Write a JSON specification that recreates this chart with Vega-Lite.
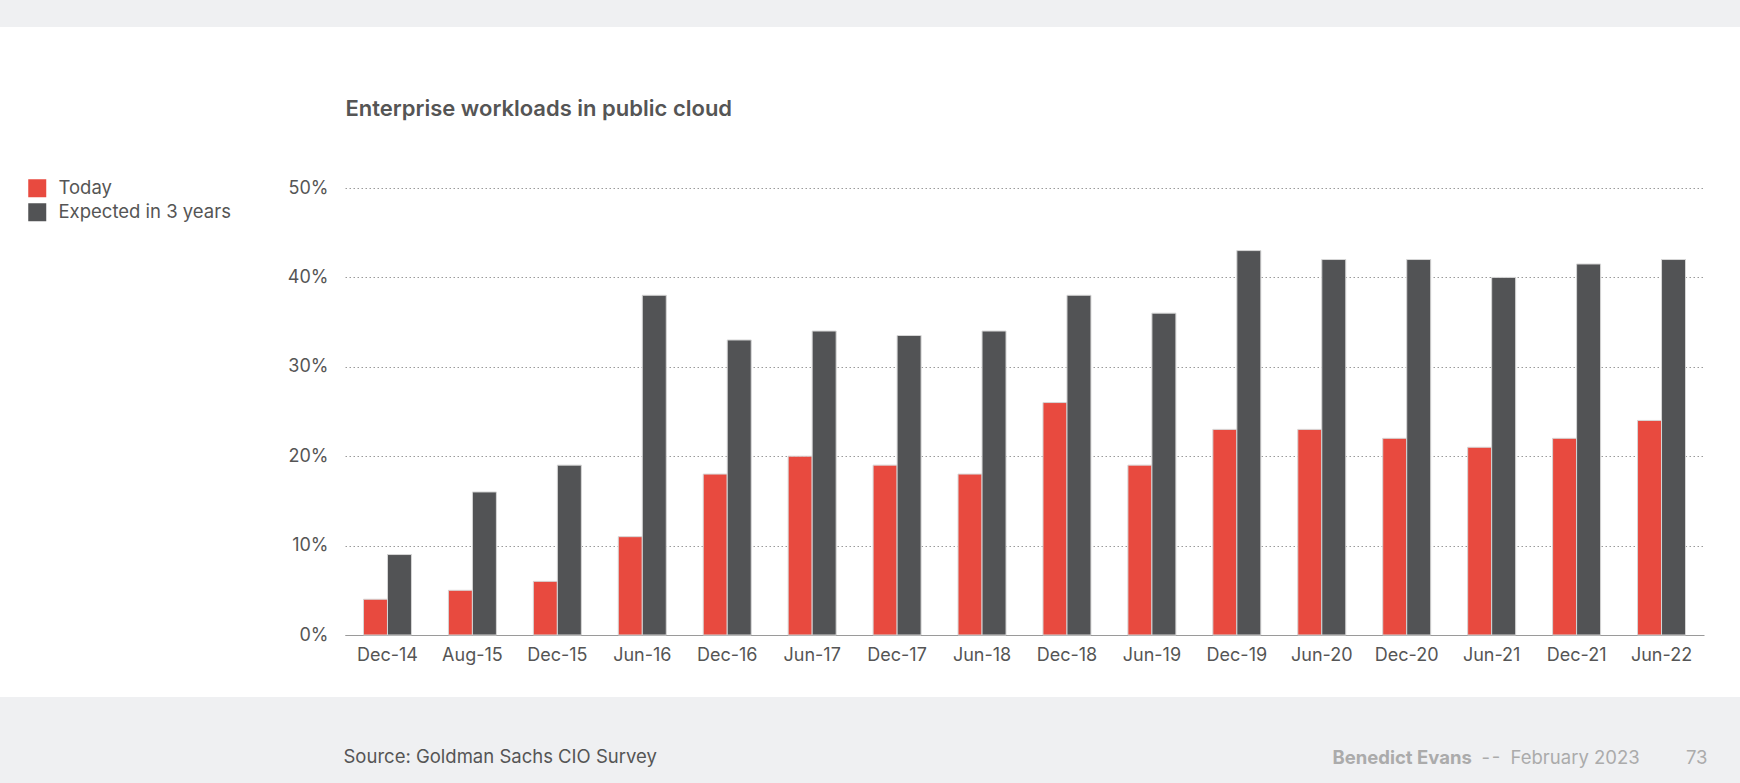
{
  "$schema": "https://vega.github.io/schema/vega-lite/v6.json",
  "width": 1740,
  "height": 670,
  "autosize": {"type": "none"},
  "padding": {"left": 0, "top": 27, "right": 0, "bottom": 86},
  "background": "#eff0f2",
  "config": {
    "view": {"fill": "#ffffff", "stroke": null},
    "font": "Inter"
  },
  "data": {
    "values": [
      {"period": "Dec-14", "series": "Today", "value": 4},
      {"period": "Aug-15", "series": "Today", "value": 5},
      {"period": "Dec-15", "series": "Today", "value": 6},
      {"period": "Jun-16", "series": "Today", "value": 11},
      {"period": "Dec-16", "series": "Today", "value": 18},
      {"period": "Jun-17", "series": "Today", "value": 20},
      {"period": "Dec-17", "series": "Today", "value": 19},
      {"period": "Jun-18", "series": "Today", "value": 18},
      {"period": "Dec-18", "series": "Today", "value": 26},
      {"period": "Jun-19", "series": "Today", "value": 19},
      {"period": "Dec-19", "series": "Today", "value": 23},
      {"period": "Jun-20", "series": "Today", "value": 23},
      {"period": "Dec-20", "series": "Today", "value": 22},
      {"period": "Jun-21", "series": "Today", "value": 21},
      {"period": "Dec-21", "series": "Today", "value": 22},
      {"period": "Jun-22", "series": "Today", "value": 24},
      {"period": "Dec-14", "series": "Expected in 3 years", "value": 9},
      {"period": "Aug-15", "series": "Expected in 3 years", "value": 16},
      {"period": "Dec-15", "series": "Expected in 3 years", "value": 19},
      {"period": "Jun-16", "series": "Expected in 3 years", "value": 38},
      {"period": "Dec-16", "series": "Expected in 3 years", "value": 33},
      {"period": "Jun-17", "series": "Expected in 3 years", "value": 34},
      {"period": "Dec-17", "series": "Expected in 3 years", "value": 33.5},
      {"period": "Jun-18", "series": "Expected in 3 years", "value": 34},
      {"period": "Dec-18", "series": "Expected in 3 years", "value": 38},
      {"period": "Jun-19", "series": "Expected in 3 years", "value": 36},
      {"period": "Dec-19", "series": "Expected in 3 years", "value": 43},
      {"period": "Jun-20", "series": "Expected in 3 years", "value": 42},
      {"period": "Dec-20", "series": "Expected in 3 years", "value": 42},
      {"period": "Jun-21", "series": "Expected in 3 years", "value": 40},
      {"period": "Dec-21", "series": "Expected in 3 years", "value": 41.5},
      {"period": "Jun-22", "series": "Expected in 3 years", "value": 42}
    ]
  },
  "layer": [
    {
      "transform": [{"filter": "datum.series === 'Today'"}],
      "mark": {"type": "bar", "stroke": "#d6d6d6", "strokeWidth": 1},
      "encoding": {
        "x": {
          "field": "period", "type": "nominal",
          "scale": {
            "domain": ["Dec-14","Aug-15","Dec-15","Jun-16","Dec-16","Jun-17","Dec-17","Jun-18","Dec-18","Jun-19","Dec-19","Jun-20","Dec-20","Jun-21","Dec-21","Jun-22"],
            "range": [345, 1704], "paddingInner": 0.435, "paddingOuter": 0.2175
          },
          "axis": {
            "orient": "bottom", "offset": -62,
            "domain": true, "domainColor": "#9a9a9a", "domainWidth": 1,
            "ticks": false, "grid": false, "labelAngle": 0, "labelPadding": 11,
            "labelFontSize": 18, "labelColor": "#555555", "labelFont": "Inter",
            "title": "Source: Goldman Sachs CIO Survey",
            "titleX": 343, "titleY": 121, "titleAlign": "left", "titleBaseline": "middle",
            "titleFontSize": 18.5, "titleFontWeight": "normal", "titleColor": "#555555", "titleFont": "Inter"
          }
        },
        "xOffset": {"field": "series", "type": "nominal", "scale": {"domain": ["Today", "Expected in 3 years"]}},
        "y": {
          "field": "value", "type": "quantitative",
          "scale": {"domain": [0, 50], "range": [608, 161], "nice": false},
          "axis": {
            "orient": "left", "offset": -345,
            "values": [0, 10, 20, 30, 40, 50],
            "labelExpr": "datum.value + '%'",
            "domain": false, "ticks": false, "labelPadding": 17,
            "labelFontSize": 18, "labelColor": "#555555", "labelFont": "Inter",
            "grid": true, "gridDash": [1.5, 2.5], "gridColor": "#9a9a9a", "gridWidth": 1,
            "title": "Enterprise workloads in public cloud",
            "titleAngle": 0, "titleX": 0, "titleY": 81, "titleAlign": "left", "titleBaseline": "middle",
            "titleFontSize": 22, "titleFontWeight": 600, "titleColor": "#555555", "titleFont": "Inter"
          }
        },
        "color": {
          "field": "series", "type": "nominal",
          "scale": {"domain": ["Today", "Expected in 3 years"], "range": ["#e84a3f", "#525355"]},
          "legend": {
            "orient": "none", "legendX": 28, "legendY": 152, "title": null,
            "symbolType": "square", "symbolSize": 324, "symbolStrokeWidth": 0,
            "labelFontSize": 18.5, "labelColor": "#555555", "labelFont": "Inter",
            "labelLimit": 500, "labelOffset": 12, "rowPadding": 5, "padding": 0
          }
        }
      }
    },
    {
      "transform": [{"filter": "datum.series === 'Expected in 3 years'"}],
      "mark": {"type": "bar", "stroke": "#d6d6d6", "strokeWidth": 1},
      "encoding": {
        "x": {
          "field": "period", "type": "nominal",
          "scale": {
            "domain": ["Dec-14","Aug-15","Dec-15","Jun-16","Dec-16","Jun-17","Dec-17","Jun-18","Dec-18","Jun-19","Dec-19","Jun-20","Dec-20","Jun-21","Dec-21","Jun-22"],
            "range": [345, 1704], "paddingInner": 0.435, "paddingOuter": 0.2175
          },
          "axis": {
            "orient": "top", "labels": false, "domain": false, "ticks": false, "grid": false,
            "title": "Benedict Evans",
            "titleX": 1332, "titleY": 730, "titleAlign": "left", "titleBaseline": "middle",
            "titleFontSize": 18.5, "titleFontWeight": 700, "titleColor": "#ababab", "titleFont": "Inter"
          }
        },
        "xOffset": {"field": "series", "type": "nominal", "scale": {"domain": ["Today", "Expected in 3 years"]}},
        "y": {
          "field": "value", "type": "quantitative",
          "scale": {"domain": [0, 50], "range": [608, 161], "nice": false},
          "axis": {
            "orient": "right", "labels": false, "domain": false, "ticks": false, "grid": false,
            "title": "-\u200a-\u00a0\u00a0February 2023\u2003\u2003\u200273",
            "titleAngle": 0, "titleX": -33, "titleY": 730, "titleAlign": "right", "titleBaseline": "middle",
            "titleFontSize": 18.5, "titleFontWeight": "normal", "titleColor": "#ababab", "titleFont": "Inter"
          }
        },
        "color": {
          "field": "series", "type": "nominal",
          "scale": {"domain": ["Today", "Expected in 3 years"], "range": ["#e84a3f", "#525355"]}
        }
      }
    }
  ],
  "resolve": {"axis": {"x": "independent", "y": "independent"}}
}
